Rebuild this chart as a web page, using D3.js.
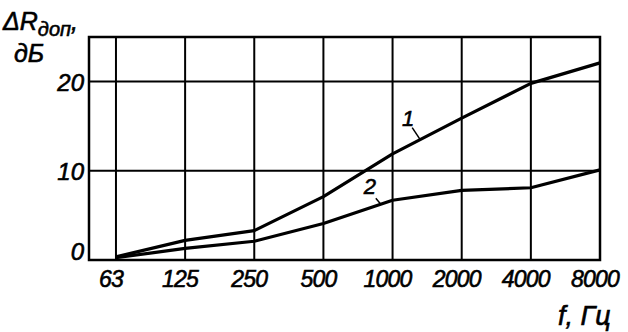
<!DOCTYPE html>
<html><head><meta charset="utf-8">
<script src="https://cdn.jsdelivr.net/npm/d3@7"></script>
<style>
html,body{margin:0;padding:0;background:#fff;}
svg text{font-family:"Liberation Sans",Arial,sans-serif;font-style:italic;fill:#000;stroke:#000;stroke-width:0.6px;}
</style></head>
<body><svg id="c" width="628" height="332"></svg>
<script>
const categories = ["63","125","250","500","1000","2000","4000","8000"];
const series1 = [0.35, 2.2, 3.3, 7.1, 11.9, 15.9, 19.8, 22.1];
const series2 = [0.25, 1.3, 2.1, 4.1, 6.7, 7.8, 8.1, 10.1];
const yTicks = [0, 10, 20];
const seriesLabels = ["1", "2"];

const svg = d3.select("#c");
const L = 89, R = 600, T = 37, B = 260;
const x = d3.scaleLinear().domain([-0.39, categories.length - 1]).range([L, R]);
const y = d3.scaleLinear().domain([0, 25]).range([B, T]);

// grid
const g = svg.append("g");
g.selectAll("line.v").data(categories.slice(0, -1)).join("line")
  .attr("x1", (d,i)=>x(i)).attr("x2", (d,i)=>x(i))
  .attr("y1", T).attr("y2", B).attr("stroke","#000").attr("stroke-width",2);
g.selectAll("line.h").data(yTicks.filter(d=>d>0)).join("line")
  .attr("x1", L).attr("x2", R).attr("y1", d=>y(d)).attr("y2", d=>y(d))
  .attr("stroke","#000").attr("stroke-width",2);
// frame
svg.append("rect").attr("x",L).attr("y",T).attr("width",R-L).attr("height",B-T)
  .attr("fill","none").attr("stroke","#000").attr("stroke-width",2.5);

// curves
const line = d3.line().x((d,i)=>x(i)).y(d=>y(d)).curve(d3.curveLinear);
[series1, series2].forEach(s=>{
  svg.append("path").attr("d", line(s)).attr("fill","none")
    .attr("stroke","#000").attr("stroke-width",3.2).attr("stroke-linejoin","round");
});

// x tick labels
svg.selectAll("text.xt").data(categories).join("text")
  .attr("x",(d,i)=>x(i)-5).attr("y",287).attr("text-anchor","middle")
  .attr("font-size",23).attr("letter-spacing",-0.8).text(d=>d);

// y tick labels
svg.selectAll("text.yt").data(yTicks).join("text")
  .attr("x",84).attr("y",d=> d===0 ? y(d) : y(d)+9).attr("text-anchor","end")
  .attr("font-size",24).text(d=>d);

// series labels with leaders
const ann = [
  {s: series1, idx: 4.4, dx: -8, dy: -12, tx: -12, ty: -14},
  {s: series2, idx: 3.83, dx: -5, dy: -6, tx: -11, ty: -10}
];
ann.forEach((a,k)=>{
  const i0 = Math.floor(a.idx), f = a.idx - i0;
  const v = a.s[i0] + (a.s[i0+1]-a.s[i0])*f;
  const px = x(a.idx), py = y(v);
  svg.append("line").attr("x1",px).attr("y1",py).attr("x2",px+a.dx).attr("y2",py+a.dy)
    .attr("stroke","#000").attr("stroke-width",1.5);
  svg.append("text").attr("x",px+a.tx).attr("y",py+a.ty).attr("font-size",22)
    .attr("text-anchor","middle").text(seriesLabels[k]);
});

// axis titles
const yt = svg.append("text").attr("x",3).attr("y",30).attr("font-size",25);
yt.append("tspan").text("ΔR");
yt.append("tspan").attr("font-size",20).attr("dy",6).text("доп");
yt.append("tspan").attr("dy",-6).text(",");
svg.append("text").attr("x",14).attr("y",62).attr("font-size",25).text("дБ");
svg.append("text").attr("x",558).attr("y",325).attr("font-size",27).text("f, Гц");
</script></body></html>
